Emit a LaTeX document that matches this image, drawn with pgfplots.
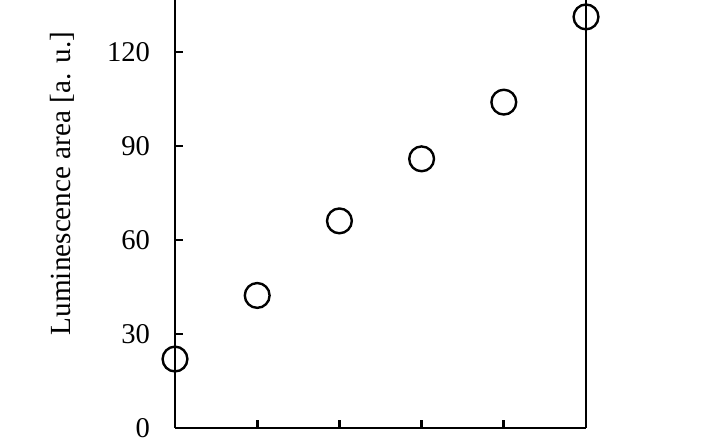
\documentclass[border=0pt]{standalone}
\usepackage{fontspec}
\setmainfont{Liberation Serif}
\usepackage{pgfplots}
\pgfplotsset{compat=1.18}
\begin{document}
\begin{tikzpicture}
\begin{axis}[
  scale only axis,
  width=205.5pt, height=214pt,
  xmin=0, xmax=5, ymin=0, ymax=136.6,
  axis x line*=bottom, axis y line*=box,
  ytick pos=left,
  clip=false,
  axis line style={line width=1.45pt},
  every tick/.style={line width=1.45pt, black},
  tick align=inside,
  major tick length=4pt,
  xtick={1,2,3,4}, xticklabels={},
  ytick={0,30,60,90,120},
  /pgf/number format/assume math mode=true,
  tick label style={font=\fontsize{14.3}{16}\selectfont},
  yticklabel style={xshift=-9pt},
  ylabel={Luminescence area [a. u.]},
  ylabel style={at={(axis description cs:-0.274,0.571)}, anchor=center, font=\fontsize{14.6}{16}\selectfont},
]
\addplot[only marks, mark=o, mark size=6.2pt, mark options={line width=1.2pt, black}] coordinates {
(0,22) (1,42.3) (2,66.1) (3,85.9) (4,104) (5,131.2)
};
\coordinate (bl) at (axis cs:-2.129,-5.43);
\coordinate (tr) at (axis cs:6.411,136.6);
\end{axis}
\pgfresetboundingbox
\path[use as bounding box] (bl) rectangle (tr);
\end{tikzpicture}
\end{document}
